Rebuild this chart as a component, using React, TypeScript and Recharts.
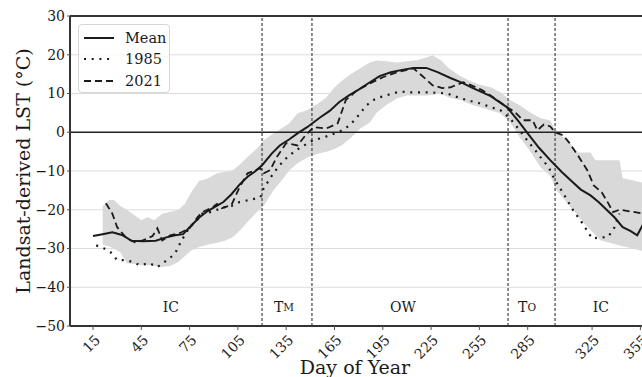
import React from "react";
import {
  ComposedChart,
  Line,
  Area,
  XAxis,
  YAxis,
  CartesianGrid,
  ReferenceLine,
  ReferenceDot,
} from "recharts";

// [day, °C]
const meanSeries: [number, number][] = [
  [15, -26.8], [21, -26.3], [27, -25.8], [33, -26.5], [39, -28], [46, -28.1], [54, -28],
  [60, -27.2], [66, -26.6], [71, -26.3], [75, -24.5], [81, -22], [86, -20.4], [91, -19.2],
  [96, -18], [101, -16], [106, -13.5], [111, -11.5], [116, -10], [120, -8.5], [126, -5.5],
  [131, -3.4], [137, -1.8], [142, -0.3], [148, 1.3], [156, 3.8], [162, 5.5], [168, 7.8],
  [174, 9.5], [180, 11], [187, 12.9], [193, 14.5], [200, 15.5], [207, 16.1], [214, 16.6],
  [222, 16.6], [229, 15.5], [237, 14], [244, 12.8], [251, 11.4], [262, 9.3], [272, 6.5],
  [279, 3], [285, -0.3], [292, -4], [299, -7.2], [306, -10.2], [313, -12.9], [318, -14.8],
  [324, -16.3], [329, -18], [334, -20], [339, -22], [344, -24.5], [349, -25.5], [353, -26.6],
  [357, -23.5],
];

const series1985: [number, number][] = [
  [17, -29.2], [22, -30], [26, -31], [30, -33], [35, -33], [40, -33.5], [44, -34.3],
  [50, -33.8], [55, -34.8], [61, -33], [65, -31.7], [67, -30.5], [70, -27.9], [72, -26.6],
  [75, -24.5], [79, -23], [83, -21], [89, -20.5], [96, -19.4], [101, -19], [106, -18],
  [112, -17.5], [119, -16.8], [121, -14.5], [127, -10.6], [131, -8.5], [135, -6.7], [140, -5],
  [144, -3.9], [152, -2], [157, -1.5], [162, -0.8], [170, 0.5], [175, 2], [179, 3.9],
  [185, 7], [190, 8.5], [193, 9], [201, 10], [206, 10.5], [212, 10.3], [224, 10.3],
  [235, 10], [243, 8.8], [250, 8], [255, 7.5], [262, 6.5], [268, 5.7], [274, 3.6],
  [280, 0.5], [286, -2.8], [290, -4.8], [294, -7], [298, -9], [302, -12.4], [307, -15.7],
  [313, -20], [319, -23.5], [325, -27.4], [330, -27.2], [335, -27], [339, -24.5], [342, -21],
];

const series2021: [number, number][] = [
  [23, -18.3], [27, -21], [30, -24.5], [36, -27.4], [41, -28.4], [46, -27.9], [52, -26.8],
  [55, -24.8], [58, -27.9], [63, -26.6], [69, -26], [75, -24.8], [80, -21.9], [83, -20.6],
  [89, -19.4], [92, -18.5], [95, -19.6], [101, -18.8], [106, -14.2], [111, -10.6], [116, -9.8],
  [119, -9.3], [121, -10.6], [125, -9.8], [129, -6.5], [135, -2.8], [142, -3.4], [147, -0.8],
  [152, 1.3], [160, 1], [167, 2.3], [172, 8.3], [179, 10.8], [187, 12.6], [195, 14.2],
  [204, 15.5], [214, 16.5], [219, 14.7], [226, 12.1], [232, 11.4], [237, 11.6], [240, 12.1],
  [245, 12.9], [250, 12.1], [256, 11], [262, 9.5], [272, 6.5], [277, 5.2], [282, 3.1],
  [288, 3.1], [291, 0.5], [295, 2], [299, 1.5], [302, 0], [307, -0.8], [311, -2.8],
  [317, -6.5], [322, -9.8], [326, -13.7], [331, -15.5], [335, -18.3], [338, -20.6],
  [342, -20], [350, -20.5], [357, -21],
];

// [day, low, high]
const bandSeries: [number, number, number][] = [
  [21, -29, -19], [25, -29.5, -17.5], [28, -30, -17.5], [32, -31, -19], [36, -33.8, -20],
  [41, -34, -21.5], [45, -34.3, -22.7], [49, -34.3, -21.9], [53, -34.5, -22.7], [58, -34.8, -21],
  [63, -34.5, -20.5], [68, -33.5, -20], [72, -32, -18.5], [76, -30.5, -15.5], [81, -29.6, -12.5],
  [86, -29, -12], [92, -28.5, -10.6], [97, -28, -10.2], [102, -27, -9.8], [107, -25, -8],
  [112, -22.7, -6], [117, -20.5, -4.1], [121, -19, -2.1], [127, -15, -0.3], [132, -12.5, 1],
  [137, -9.8, 2.3], [142, -8, 4.9], [148, -6.5, 5.7], [155, -5.5, 7.5], [160, -5, 9],
  [165, -4.3, 11.6], [170, -3.2, 13.4], [175, -1.5, 15], [181, 1, 16.5], [187, 2.5, 18],
  [191, 5, 18.5], [197, 7, 18.3], [204, 8.8, 18], [210, 9.5, 18.3], [216, 9.5, 18.6],
  [222, 9.5, 19.3], [226, 9.6, 19.9], [231, 10, 18.6], [236, 9, 16.5], [243, 8.3, 14.5],
  [251, 7, 12.9], [255, 6.5, 12.3], [262, 5.6, 11.6], [268, 4.9, 10.3], [274, 2.6, 8.3],
  [280, -1.3, 7], [286, -4.6, 5.2], [293, -9, 3.6], [299, -11.3, 3.1], [303, -15, -0.3],
  [308, -17.5, -1.5], [311, -19, -2.6], [316, -21.5, -5.2], [320, -23.5, -5.2], [324, -25.3, -5.2],
  [327, -26.5, -7.2], [330, -27.9, -7.2], [336, -28.5, -7.2], [342, -29.2, -7.2], [344, -29.4, -11.9],
  [350, -30, -12.4], [355, -30.5, -12.9], [358, -30.7, -13],
];

const xTicks = [15, 45, 75, 105, 135, 165, 195, 225, 255, 285, 325, 355];
const yTicks = [-50, -40, -30, -20, -10, 0, 10, 20, 30];
const seasonBounds = [120, 151, 272.8, 302];
const seasonLabels = [
  { day: 63.4, main: "IC", sub: "" },
  { day: 133.6, main: "T", sub: "M" },
  { day: 207.5, main: "OW", sub: "" },
  { day: 284.6, main: "T", sub: "O" },
  { day: 330.5, main: "IC", sub: "" },
];
const seasonLabelY = -45.2;

const FONT = "'DejaVu Serif', serif";
const INK = "#1a1a1a";

const byDay = new Map<number, any>();
const put = (d: number, key: string, v: any) => {
  const row = byDay.get(d) ?? { day: d };
  row[key] = v;
  byDay.set(d, row);
};
meanSeries.forEach(([d, v]) => put(d, "mean", v));
series1985.forEach(([d, v]) => put(d, "y1985", v));
series2021.forEach(([d, v]) => put(d, "y2021", v));
bandSeries.forEach(([d, lo, hi]) => put(d, "band", [lo, hi]));
const rows = [...byDay.values()].sort((a, b) => a.day - b.day);

const fmtY = (v: number) => (v < 0 ? `\u2212${Math.abs(v)}` : `${v}`);

function XTick(props: any) {
  const { x, y, payload } = props;
  const ax = x + 8;
  const ay = y + 9;
  return (
    <text
      x={ax}
      y={ay}
      transform={`rotate(-45 ${ax} ${ay})`}
      textAnchor="end"
      fontSize={14}
      fontFamily={FONT}
      fill={INK}
    >
      {payload.value}
    </text>
  );
}

function SeasonLabel(props: any) {
  const { viewBox, main, sub } = props;
  const cx = viewBox.x + viewBox.width / 2;
  const cy = viewBox.y + viewBox.height / 2;
  return (
    <text x={cx} y={cy} textAnchor="middle" dominantBaseline="central" fontSize={14} fontFamily={FONT} fill={INK}>
      {main}
      {sub ? <tspan fontSize={10.5}>{sub}</tspan> : null}
    </text>
  );
}

const legendItems = [
  { name: "Mean", dash: "none", width: 2 },
  { name: "1985", dash: "2 5.7", width: 2.2 },
  { name: "2021", dash: "7 4", width: 1.8 },
];

export default function App() {
  return (
    <div
      style={{
        position: "absolute",
        left: 0,
        top: 0,
        width: 642,
        height: 377,
        overflow: "hidden",
        background: "#fff",
      }}
    >
      <ComposedChart
        width={700}
        height={377}
        data={rows}
        margin={{ top: 16, right: 42, bottom: 0, left: 8 }}
      >
        <CartesianGrid vertical={false} stroke="#dcdcdc" strokeWidth={1} />
        <XAxis
          type="number"
          dataKey="day"
          domain={[0.714, 365.93]}
          allowDataOverflow
          ticks={xTicks}
          tick={<XTick />}
          tickSize={4}
          interval={0}
          height={51}
          stroke="#333"
          axisLine={{ stroke: "#333", strokeWidth: 2 }}
          tickLine={{ stroke: "#555" }}
          label={() => (
            <text x={355} y={367} textAnchor="middle" dominantBaseline="central" fontSize={19} fontFamily={FONT} fill={INK}>
              Day of Year
            </text>
          )}
        />
        <YAxis
          type="number"
          domain={[-50, 30]}
          ticks={yTicks}
          width={62}
          tickFormatter={fmtY}
          tickSize={3}
          tick={{ fontSize: 14, fill: INK, fontFamily: FONT }}
          axisLine={{ stroke: "#333", strokeWidth: 2 }}
          tickLine={{ stroke: "#555" }}
          label={() => (
            <text
              x={23}
              y={171}
              transform="rotate(-90 23 171)"
              textAnchor="middle"
              dominantBaseline="central"
              fontSize={19}
              fontFamily={FONT}
              fill={INK}
            >
              Landsat-derived LST (°C)
            </text>
          )}
        />
        <Area
          dataKey="band"
          type="linear"
          stroke="none"
          fill="#d9d9d9"
          fillOpacity={1}
          connectNulls
          isAnimationActive={false}
          dot={false}
          activeDot={false}
        />
        <ReferenceLine y={0} stroke="#222" strokeWidth={1.3} />
        <ReferenceLine y={30} stroke="#333" strokeWidth={2} />
        {seasonBounds.map((d) => (
          <ReferenceLine key={d} x={d} stroke="#444" strokeWidth={1.2} strokeDasharray="3 2" />
        ))}
        <Line
          dataKey="y1985"
          type="linear"
          stroke={INK}
          strokeWidth={2.2}
          strokeDasharray="2 5.7"
          dot={false}
          activeDot={false}
          connectNulls
          isAnimationActive={false}
        />
        <Line
          dataKey="y2021"
          type="linear"
          stroke={INK}
          strokeWidth={1.8}
          strokeDasharray="7 4"
          dot={false}
          activeDot={false}
          connectNulls
          isAnimationActive={false}
        />
        <Line
          dataKey="mean"
          type="linear"
          stroke={INK}
          strokeWidth={2}
          dot={false}
          activeDot={false}
          connectNulls
          isAnimationActive={false}
        />
        {seasonLabels.map((s) => (
          <ReferenceDot
            key={s.day}
            x={s.day}
            y={seasonLabelY}
            r={0}
            fill="none"
            stroke="none"
            label={(p: any) => <SeasonLabel {...p} main={s.main} sub={s.sub} />}
          />
        ))}
      </ComposedChart>
      <div
        style={{
          position: "absolute",
          left: 78,
          top: 24,
          width: 92,
          height: 69,
          boxSizing: "border-box",
          border: "1px solid #d6d6d6",
          borderRadius: 4,
          background: "rgba(255,255,255,0.85)",
          fontFamily: FONT,
          fontSize: 14.5,
          color: INK,
          paddingTop: 2,
        }}
      >
        {legendItems.map((it) => (
          <div key={it.name} style={{ display: "flex", alignItems: "center", height: 21.5 }}>
            <svg width={30} height={10} style={{ marginLeft: 5, marginRight: 11 }}>
              <line
                x1={0}
                y1={5}
                x2={30}
                y2={5}
                stroke={INK}
                strokeWidth={it.width}
                strokeDasharray={it.dash}
              />
            </svg>
            <span>{it.name}</span>
          </div>
        ))}
      </div>
    </div>
  );
}
